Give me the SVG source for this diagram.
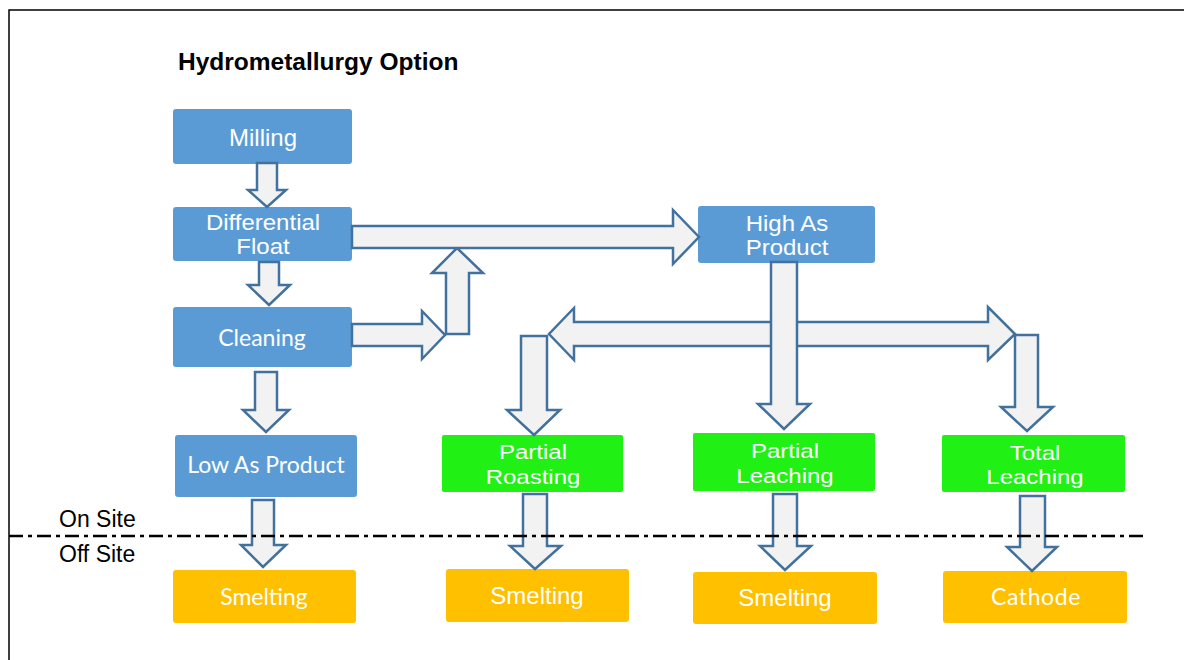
<svg xmlns="http://www.w3.org/2000/svg" width="1184" height="660" viewBox="0 0 1184 660">
<style>
.blue{fill:#5B9BD5}
.green{fill:#20F014}
.orange{fill:#FFC000}
.t{font-family:"Liberation Sans",Arial,sans-serif;font-size:24px;fill:#FFFFFF;text-anchor:middle}
.c{font-family:Lato,"Open Sans",sans-serif;font-size:23px;fill:#FFFFFF;text-anchor:middle}
.arr{fill:#F2F2F2;stroke:#41719C;stroke-width:2.5;stroke-linejoin:miter}
.lbl{font-family:"Liberation Sans",Arial,sans-serif;font-size:23px;fill:#000000}
</style>
<rect x="0" y="0" width="1184" height="660" fill="#FFFFFF"/>
<path d="M9,660 V10 H1184" fill="none" stroke="#000000" stroke-width="1.5"/>
<text x="178" y="70" font-family="Liberation Sans, Arial, sans-serif" font-size="24.5" font-weight="bold" fill="#000000">Hydrometallurgy Option</text>

<g id="milling"><rect class="blue" x="173" y="109" width="179" height="55" rx="3"/><text class="t" x="263" y="146">Milling</text></g>
<g id="differential-float"><rect class="blue" x="173" y="207" width="179" height="54" rx="3"/><text class="t" transform="translate(263,230) scale(1,0.9)">Differential</text><text class="t" transform="translate(263,254) scale(1,0.9)">Float</text></g>
<g id="cleaning"><rect class="blue" x="173" y="307" width="179" height="60" rx="3"/><text class="c" x="262" y="346">Cleaning</text></g>
<g id="low-as-product"><rect class="blue" x="175" y="435" width="182" height="62" rx="3"/><text class="c" x="266" y="473">Low As Product</text></g>
<g id="smelting-1"><rect class="orange" x="173" y="570" width="183" height="53" rx="3"/><text class="c" x="264" y="605">Smelting</text></g>
<g id="high-as-product"><rect class="blue" x="698" y="206" width="177" height="57" rx="3"/><text class="t" transform="translate(787,231) scale(1,0.9)">High As</text><text class="t" transform="translate(787,255) scale(1,0.9)">Product</text></g>
<g id="partial-roasting"><rect class="green" x="442" y="435" width="181" height="57" rx="2"/><text class="t" transform="translate(533,459) scale(1,0.88)">Partial</text><text class="t" transform="translate(533,484) scale(1,0.88)">Roasting</text></g>
<g id="smelting-2"><rect class="orange" x="446" y="569" width="183" height="53" rx="3"/><text class="t" x="537" y="604">Smelting</text></g>
<g id="partial-leaching"><rect class="green" x="693" y="433" width="182" height="58" rx="2"/><text class="t" transform="translate(785,458) scale(1,0.88)">Partial</text><text class="t" transform="translate(785,483) scale(1,0.88)">Leaching</text></g>
<g id="smelting-3"><rect class="orange" x="693" y="572" width="184" height="52" rx="3"/><text class="t" x="785" y="606">Smelting</text></g>
<g id="total-leaching"><rect class="green" x="942" y="435" width="183" height="57" rx="2"/><text class="t" transform="translate(1035,460) scale(1,0.88)">Total</text><text class="t" transform="translate(1035,484) scale(1,0.88)">Leaching</text></g>
<g id="cathode"><rect class="orange" x="943" y="571" width="184" height="52" rx="3"/><text class="c" x="1036" y="605" letter-spacing="0.6">Cathode</text></g>

<g id="connectors">
<polygon class="arr" points="257,163 277,163 277,190 286,190 267,207 248,190 257,190"/>
<polygon class="arr" points="259,262 279,262 279,285 290,285 269,305 248,285 259,285"/>
<polygon class="arr" points="255,372 277,372 277,410 289,410 266,432 243,410 255,410"/>
<polygon class="arr" points="252,500 274,500 274,545 286,545 263,567 241,545 252,545"/>
<polygon class="arr" points="352,324 422,324 422,311 445,335 422,359 422,346 352,346"/>
<polygon class="arr" points="446,334 446,273 432,273 457,248 483,273 469,273 469,334"/>
<polygon class="arr" points="352,226 673,226 673,210 699,237 673,264 673,248 352,248"/>
<polygon class="arr" points="574,322 988,322 988,307 1015,334 988,360 988,346 574,346 574,360 549,334 574,308"/>
<polygon class="arr" points="771,262 797,262 797,404 810,404 784,429 758,404 771,404"/>
<polygon class="arr" points="521,336 547,336 547,410 560,410 534,435 507,410 521,410"/>
<polygon class="arr" points="1015,335 1038,335 1038,407 1053,407 1027,431 1001,407 1015,407"/>
<polygon class="arr" points="523,494 547,494 547,546 561,546 535,569 510,546 523,546"/>
<polygon class="arr" points="773,494 797,494 797,546 811,546 785,570 760,546 773,546"/>
<polygon class="arr" points="1020,496 1045,496 1045,547 1057,547 1032,571 1007,547 1020,547"/>
</g>

<line x1="9" y1="536" x2="1146" y2="536" stroke="#000000" stroke-width="2.5" stroke-dasharray="14,5,4,5"/>
<text class="lbl" x="59" y="527">On Site</text>
<text class="lbl" x="59" y="562">Off Site</text>
</svg>
